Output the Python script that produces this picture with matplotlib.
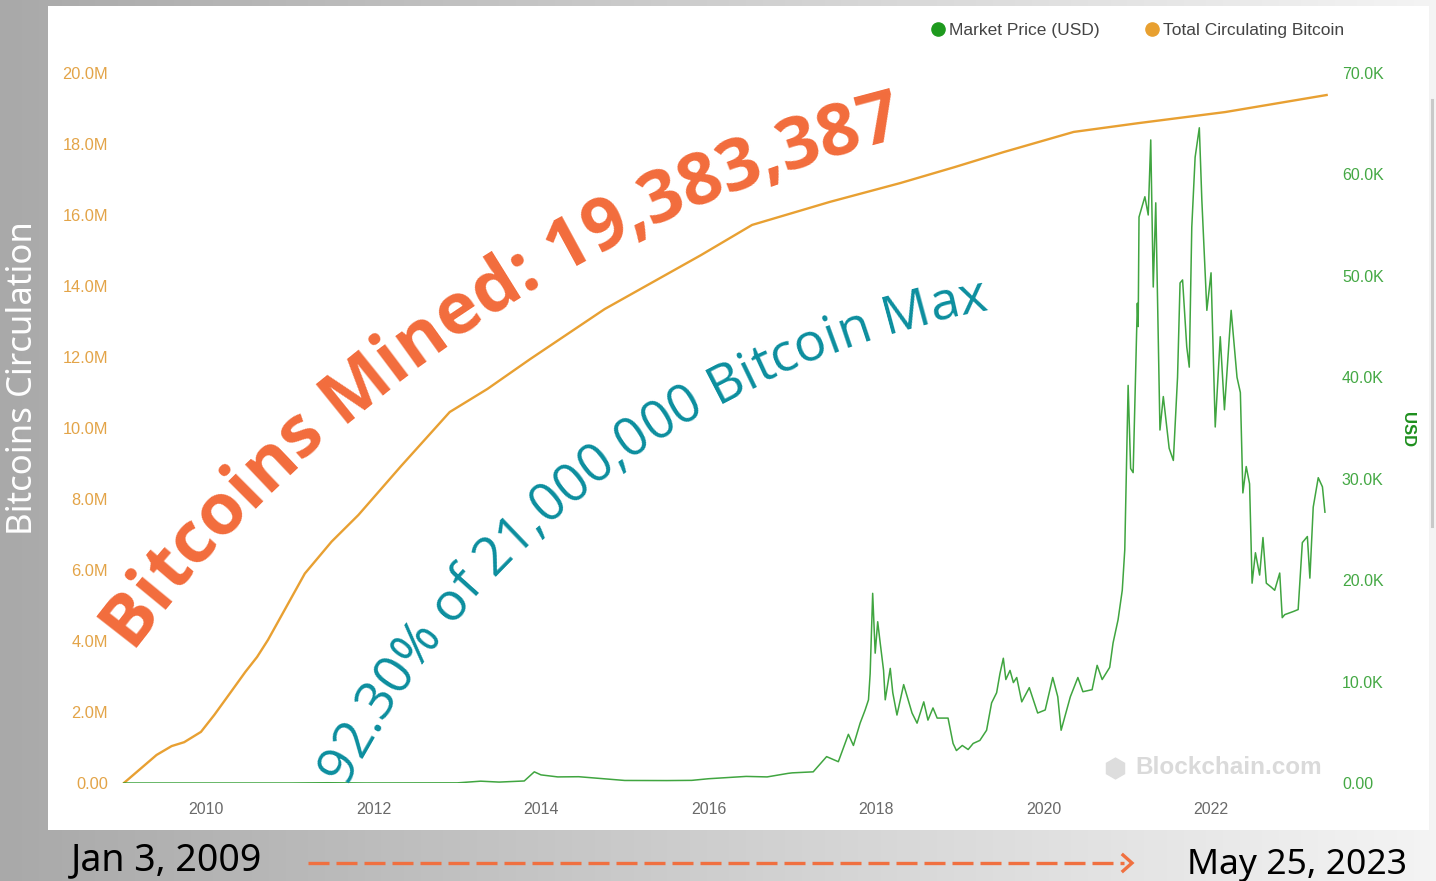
"""Bitcoin circulating supply vs market price (Blockchain.com style) with slide overlays."""
import numpy as np
import matplotlib
matplotlib.use("Agg")
import matplotlib.pyplot as plt
from matplotlib.colors import LinearSegmentedColormap
from matplotlib.font_manager import FontProperties
from matplotlib.lines import Line2D
from matplotlib.patches import Rectangle
from matplotlib.ticker import FuncFormatter
from matplotlib.transforms import IdentityTransform

# ---- data ----
supply_years = [2009.02, 2009.41, 2009.59, 2009.74, 2009.94, 2010.10, 2010.29, 2010.47,
                2010.61, 2010.74, 2011.18, 2011.50, 2011.82, 2012.33, 2012.91, 2013.36,
                2013.87, 2014.76, 2015.91, 2016.52, 2017.45, 2018.29, 2018.94, 2019.52,
                2020.36, 2021.14, 2022.17, 2023.38]
supply_mil = [0.0, 0.79, 1.04, 1.15, 1.44, 1.92, 2.54, 3.13,
              3.55, 4.03, 5.90, 6.80, 7.55, 8.93, 10.45, 11.10,
              11.94, 13.35, 14.87, 15.72, 16.37, 16.90, 17.35, 17.77,
              18.34, 18.59, 18.90, 19.38]

price_years = [2009.02, 2010.50, 2011.00, 2011.45, 2011.90, 2012.50, 2013.00, 2013.28,
               2013.50, 2013.80, 2013.92, 2014.00, 2014.20, 2014.45, 2014.70, 2015.00,
               2015.50, 2015.80, 2016.00, 2016.45, 2016.70, 2016.95, 2017.00, 2017.25,
               2017.41, 2017.55, 2017.67, 2017.73, 2017.81, 2017.87, 2017.91, 2017.93,
               2017.96, 2017.99, 2018.02, 2018.05, 2018.09, 2018.11, 2018.17, 2018.20,
               2018.25, 2018.33, 2018.43, 2018.49, 2018.57, 2018.62, 2018.68, 2018.73,
               2018.86, 2018.92, 2018.96, 2019.03, 2019.10, 2019.16, 2019.24, 2019.32,
               2019.38, 2019.44, 2019.48, 2019.52, 2019.55, 2019.60, 2019.64, 2019.68,
               2019.74, 2019.83, 2019.93, 2020.02, 2020.11, 2020.17, 2020.21, 2020.32,
               2020.41, 2020.47, 2020.58, 2020.64, 2020.70, 2020.79, 2020.83, 2020.89,
               2020.94, 2020.97, 2021.01, 2021.04, 2021.07, 2021.12, 2021.13, 2021.14,
               2021.21, 2021.25, 2021.28, 2021.31, 2021.34, 2021.39, 2021.43, 2021.50,
               2021.55, 2021.60, 2021.63, 2021.66, 2021.71, 2021.74, 2021.77, 2021.81,
               2021.86, 2021.89, 2021.95, 2022.00, 2022.05, 2022.11, 2022.16, 2022.24,
               2022.31, 2022.35, 2022.38, 2022.42, 2022.46, 2022.49, 2022.53, 2022.58,
               2022.62, 2022.66, 2022.72, 2022.76, 2022.82, 2022.85, 2022.88, 2022.98,
               2023.04, 2023.09, 2023.15, 2023.18, 2023.22, 2023.28, 2023.33, 2023.36]
price_usd = [0, 0.07, 0.3, 25, 3, 7, 13, 180,
             90, 200, 1100, 800, 600, 620, 450, 250,
             240, 260, 420, 650, 600, 950, 1000, 1100,
             2600, 2100, 4800, 3700, 5900, 7200, 8200, 10800,
             18700, 12800, 15900, 13800, 11100, 8200, 11300, 8900,
             6700, 9700, 6900, 5900, 8000, 6200, 7400, 6400,
             6400, 3900, 3200, 3700, 3300, 3900, 4200, 5200,
             7900, 8900, 10800, 12300, 10200, 11100, 9900, 10400,
             8000, 9400, 6900, 7200, 10400, 8500, 5200, 8500,
             10400, 9000, 9200, 11600, 10200, 11400, 13800, 16100,
             19000, 23000, 39200, 31000, 30600, 47300, 45000, 55800,
             57800, 56000, 63400, 48900, 57200, 34800, 38100, 33000,
             31800, 40000, 49300, 49600, 43000, 41000, 54800, 61700,
             64600, 57500, 46600, 50300, 35100, 44000, 36800, 46600,
             40000, 38500, 28600, 31200, 29500, 19700, 22700, 20500,
             24200, 19700, 19300, 19000, 20700, 16300, 16600, 16900,
             17100, 23700, 24300, 20200, 27200, 30100, 29200, 26700]

left_ticks = [0, 2, 4, 6, 8, 10, 12, 14, 16, 18, 20]
right_ticks = [0, 10000, 20000, 30000, 40000, 50000, 60000, 70000]
year_ticks = [2010, 2012, 2014, 2016, 2018, 2020, 2022]

legend_labels = ["Market Price (USD)", "Total Circulating Bitcoin"]
headline = "Bitcoins Mined: 19,383,387"
subline = "92.30% of 21,000,000 Bitcoin Max"
start_label = "Jan 3, 2009"
end_label = "May 25, 2023"
side_label = "Bitcoins Circulation"

ORANGE_LINE = "#e8a032"
GREEN_LINE = "#2b9b2b"
HEAD_COL = "#f26c3c"
SUB_COL = "#0b8e9e"

W, H = 1436, 881


def arc_text(fig, s, start, theta0, theta1, length, fp, color):
    """Lay characters along a circular arc, baseline starting at `start` (image px)."""
    rend = fig.canvas.get_renderer()
    base = fp.copy(); base.set_size(20)
    wid = lambda t: rend.get_text_width_height_descent(t, base, ismath=False)[0]
    ref = wid("||")
    adv = [wid("|" + c + "|") - ref for c in s]
    k = length / sum(adv)
    fp2 = fp.copy(); fp2.set_size(20 * k)
    R = length / np.radians(theta0 - theta1)
    x0, y0 = start[0], H - start[1]
    t0 = np.radians(theta0)
    pos = 0.0
    for c, a in zip(s, adv):
        a *= k
        sm = pos + a / 2
        th = t0 - sm / R
        x = x0 + R * (np.sin(t0) - np.sin(th))
        y = y0 + R * (np.cos(th) - np.cos(t0))
        fig.text(x, y, c, transform=IdentityTransform(), rotation=np.degrees(th),
                 rotation_mode="anchor", ha="center", va="baseline",
                 fontproperties=fp2, color=color, zorder=20)
        pos += a


fig = plt.figure(figsize=(W / 100, H / 100), dpi=100)

# grey gradient backdrop + white chart card
bg = fig.add_axes([0, 0, 1, 1], zorder=-5)
bg.imshow(np.linspace(0, 1, 256)[None, :], aspect="auto", extent=[0, 1, 0, 1],
          cmap=LinearSegmentedColormap.from_list("bg", ["#a9a9a9", "#f4f4f4"]))
bg.axis("off")
fig.add_artist(Rectangle((48 / W, (H - 830) / H), (1429 - 48) / W, (830 - 6) / H,
                         transform=fig.transFigure, facecolor="white",
                         edgecolor="none", zorder=-4))
fig.add_artist(Line2D([1432, 1432], [H - 100, H - 526], transform=IdentityTransform(),
                      color="#c9c9c9", lw=2.2, zorder=-3))

ax = fig.add_axes([110 / W, (H - 783) / H, (1335 - 110) / W, (783 - 73) / H], zorder=2)
ax.patch.set_visible(False)
ax2 = ax.twinx()
ax2.set_zorder(3)
ax2.patch.set_visible(False)

ax.plot(supply_years, supply_mil, color=ORANGE_LINE, lw=1.7, solid_joinstyle="round", zorder=3)
ax2.plot(price_years, price_usd, color=GREEN_LINE, lw=1.1, alpha=0.9, zorder=3)

ax.set_xlim(2008.854, 2023.48)
ax.set_ylim(0, 20)
ax2.set_ylim(0, 70000)
ax.set_xticks(year_ticks)
ax.set_yticks(left_ticks)
ax2.set_yticks(right_ticks)
ax.yaxis.set_major_formatter(FuncFormatter(lambda v, p: "0.00" if v == 0 else f"{v:.1f}M"))
ax2.yaxis.set_major_formatter(FuncFormatter(lambda v, p: "0.00" if v == 0 else f"{v / 1000:.1f}K"))

tick_font = "Liberation Sans"
ax.tick_params(axis="y", length=0, pad=1.5, labelsize=11.8, labelcolor="#e3a448")
ax.tick_params(axis="x", length=0, pad=13.5, labelsize=11.5, labelcolor="#6a6a6a")
ax2.tick_params(axis="y", length=0, pad=5, labelsize=11.5, labelcolor="#44a844")
for lab in ax.get_xticklabels() + ax.get_yticklabels() + ax2.get_yticklabels():
    lab.set_fontfamily(tick_font)
for a in (ax, ax2):
    for sp in a.spines.values():
        sp.set_visible(False)

fig.text(1408, H - 430, "USD", transform=IdentityTransform(), rotation=270,
         ha="center", va="center", fontsize=12, fontweight="bold", color="#1e8f1e",
         family=tick_font)

handles = [Line2D([], [], ls="", marker="o", markersize=9.5, color="#1e9a1e"),
           Line2D([], [], ls="", marker="o", markersize=9.5, color="#e8a030")]
fig.legend(handles, legend_labels, loc="center", ncol=2, frameon=False,
           bbox_to_anchor=(1137 / W, (H - 30) / H), handlelength=0.9, handletextpad=0.15,
           columnspacing=2.6, prop=FontProperties(family=tick_font, size=12.5),
           labelcolor="#444444")

# watermark
fig.add_artist(Line2D([1115], [H - 768], transform=IdentityTransform(), marker="h",
                      markersize=15, color="#dddddd", ls=""))
fig.text(1135, H - 768, "Blockchain.com", transform=IdentityTransform(), ha="left",
         va="center", fontsize=17.5, fontweight="bold", color="#dadada", family=tick_font)

# slide overlays
arc_text(fig, headline, (131, 648), 53, 14, 945,
         FontProperties(family="Open Sans", weight="bold"), HEAD_COL)
arc_text(fig, subline, (346, 786), 63, 10, 830,
         FontProperties(family="Open Sans"), SUB_COL)

fig.text(23, H - 378, side_label, transform=IdentityTransform(), rotation=90,
         ha="center", va="center", fontsize=25, color="white", family="Noto Sans")
fig.text(71, H - 870, start_label, transform=IdentityTransform(), ha="left",
         va="baseline", fontsize=27, color="black", family="Noto Sans")
fig.text(1407, H - 874, end_label, transform=IdentityTransform(), ha="right",
         va="baseline", fontsize=25.5, color="black", family="Noto Sans")

lw = 2.4
px = lw * 100 / 72
fig.add_artist(Line2D([308, 1124], [H - 863, H - 863], transform=IdentityTransform(),
                      color="#f07040", lw=lw, linestyle=(0, (21 / px, 7 / px)), zorder=5))
fig.add_artist(Line2D([1123, 1132, 1123], [H - 855, H - 863, H - 871],
                      transform=IdentityTransform(), color="#f07040", lw=lw,
                      solid_joinstyle="miter", zorder=5))

fig.savefig("out.png", dpi=100)
